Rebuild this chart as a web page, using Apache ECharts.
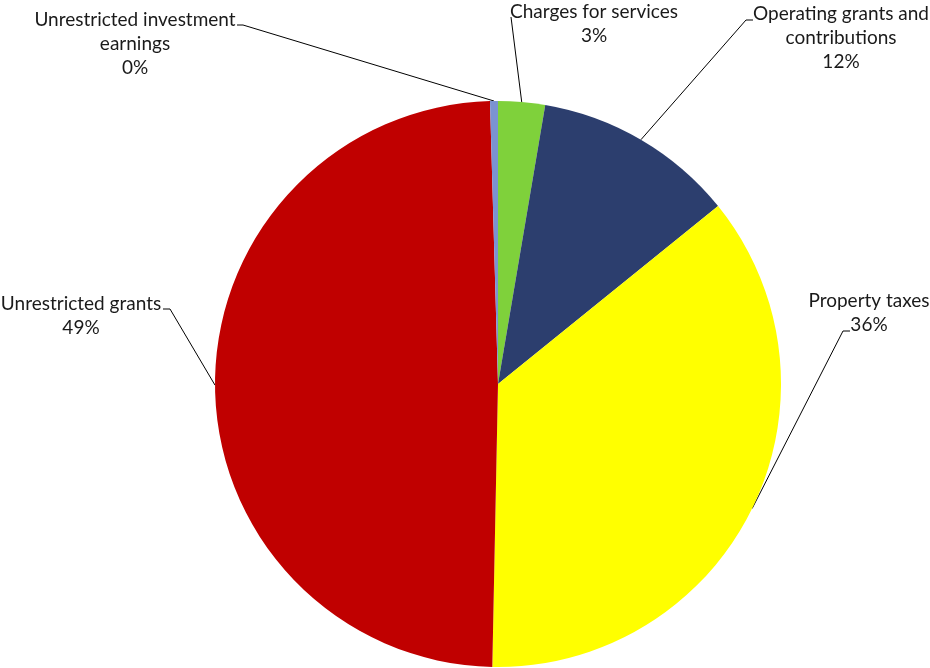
<!DOCTYPE html>
<html>
<head>
<meta charset="utf-8">
<script src="https://cdn.jsdelivr.net/npm/echarts@6/dist/echarts.min.js"></script>
<style>
html,body{margin:0;padding:0;background:#fff;}
#chart{width:930px;height:668px;}
</style>
</head>
<body>
<div id="chart"></div>
<script>
var categories = ['Charges for services', 'Operating grants and\ncontributions', 'Property taxes', 'Unrestricted grants', 'Unrestricted investment\nearnings'];
var values = [2.67, 11.51, 36.14, 49.23, 0.45];
var colors = ['#7FD13B', '#2C3E6E', '#FFFF00', '#C00000', '#7B93D1'];

// label anchor (center of text block) and leader line bend/end, by slice
var labelPos = [
  {x: 594, y: 24, bend: [511, 17], end: [511, 17]},
  {x: 841, y: 38, bend: [746, 20], end: [753, 20]},
  {x: 869, y: 313, bend: [843, 331], end: [850, 331]},
  {x: 81, y: 316, bend: [170, 309], end: [163, 309]},
  {x: 135, y: 44, bend: [243, 25], end: [237, 25]}
];

var chart = echarts.init(document.getElementById('chart'));
chart.setOption({
  animation: false,
  backgroundColor: '#ffffff',
  series: [{
    type: 'pie',
    center: [498, 384],
    radius: [0, 283],
    startAngle: 90,
    clockwise: true,
    avoidLabelOverlap: false,
    data: categories.map(function (c, i) {
      return {name: c, value: values[i], itemStyle: {color: colors[i]}};
    }),
    itemStyle: {borderWidth: 0},
    label: {
      show: true,
      position: 'outside',
      color: '#1a1a1a',
      fontFamily: 'Lato',
      fontSize: 19,
      lineHeight: 24,
      align: 'center',
      formatter: function (p) { return p.name + '\n' + Math.round(p.percent) + '%'; }
    },
    labelLine: {
      show: true,
      length: 20,
      length2: 10,
      smooth: false,
      lineStyle: {color: '#000', width: 1}
    },
    labelLayout: function (params) {
      var lp = labelPos[params.dataIndex];
      var start = params.labelLinePoints ? params.labelLinePoints[0] : lp.bend;
      return {
        x: lp.x,
        y: lp.y,
        align: 'center',
        verticalAlign: 'middle',
        labelLinePoints: [start, lp.bend, lp.end]
      };
    },
    emphasis: {disabled: true}
  }]
});
</script>
</body>
</html>
